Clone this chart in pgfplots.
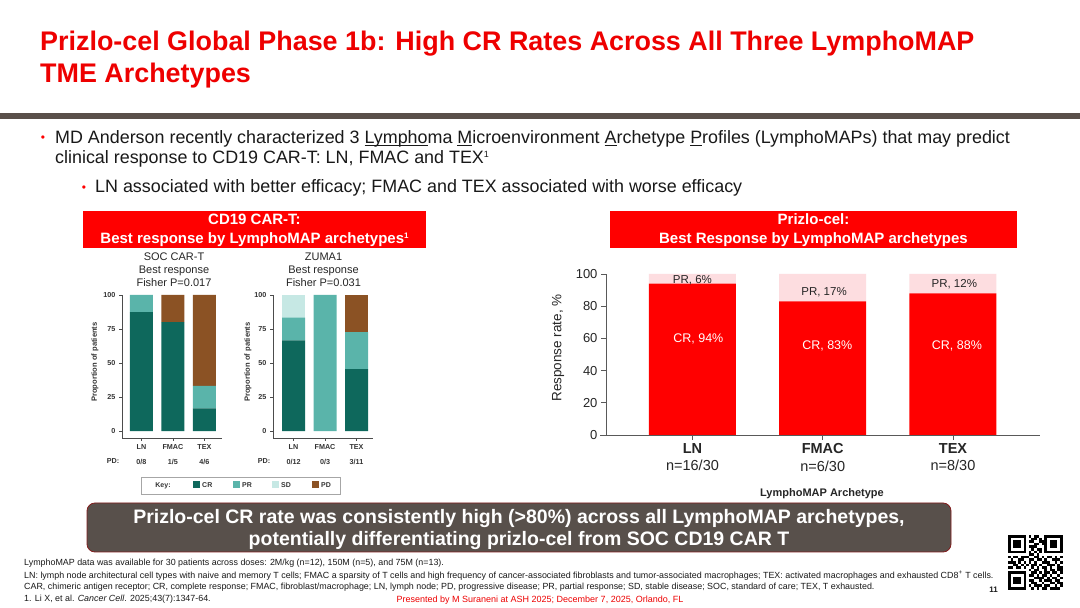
\documentclass[border=0pt]{standalone}
\usepackage{pgfplots}
\pgfplotsset{compat=1.18}
\usepackage{fontspec}
\setmainfont{Liberation Sans}
\definecolor{slidered}{RGB}{255,0,0}
\definecolor{titlered}{RGB}{238,0,0}
\definecolor{pinkpr}{RGB}{253,221,224}
\definecolor{barbrown}{RGB}{89,79,74}
\definecolor{boxfill}{RGB}{88,80,75}
\definecolor{boxedge}{RGB}{130,30,30}
\definecolor{crc}{RGB}{14,104,92}
\definecolor{prc}{RGB}{90,180,170}
\definecolor{sdc}{RGB}{198,232,228}
\definecolor{pdc}{RGB}{139,82,36}
\definecolor{txt}{RGB}{25,25,25}
\newcommand{\fsz}[1]{\fontsize{#1}{\dimexpr#1*12/10\relax}\selectfont}
\newcommand{\supone}[2]{\raisebox{#1}{\fontsize{#2}{#2}\selectfont 1}}
\newcommand{\ulx}[1]{\setbox0\hbox{#1}\rlap{\rule[-2.2pt]{\wd0}{0.9pt}}\box0}
\pgfplotsset{
  leftchart/.style={
    scale only axis, width=100pt, height=143pt,
    ybar stacked, bar width=23pt,
    ymin=-5.1, ymax=100,
    axis x line*=bottom, axis y line*=left,
    axis line style={black!70, line width=0.7pt},
    xtick={1,2,3}, ytick={0,25,50,75,100},
    tick style={black!70, line width=0.7pt},
    tick align=outside, major tick length=3pt,
    ticklabel style={font=\bfseries\fontsize{7.2}{8}\selectfont, text=black!80},
    xticklabel style={align=center},
    /pgf/number format/assume math mode=true,
    every axis plot/.append style={draw=none},
    clip=false,
  }
}
\begin{document}
\begin{tikzpicture}[x=1pt,y=1pt]
\path[use as bounding box, fill=white] (0,0) rectangle (1080,608);
% title
\node[anchor=base west, inner sep=0, text=titlered, font=\bfseries\fsz{26.9pt}] at (40,557) {Prizlo-cel Global Phase 1b: High CR Rates Across All Three LymphoMAP};
\node[anchor=base west, inner sep=0, text=titlered, font=\bfseries\fsz{26.9pt}] at (40,525) {TME Archetypes};
\fill[barbrown] (0,495) rectangle (1080,489);
% bullets
\node[text=slidered, font=\fsz{12pt}, inner sep=0] at (43,469) {\textbullet};
\node[anchor=base west, inner sep=0, font=\fsz{17.9pt}, text=txt] at (55,464.5) {MD Anderson recently characterized 3 \ulx{Lympho}ma \ulx{M}icroenvironment \ulx{A}rchetype \ulx{P}rofiles (LymphoMAPs) that may predict};
\node[anchor=base west, inner sep=0, font=\fsz{17.9pt}, text=txt] at (55,444) {clinical response to CD19 CAR-T: LN, FMAC and TEX\supone{6.5pt}{9pt}};
\node[text=slidered, font=\fsz{12pt}, inner sep=0] at (84,419) {\textbullet};
\node[anchor=base west, inner sep=0, font=\fsz{17.9pt}, text=txt] at (95,415) {LN associated with better efficacy; FMAC and TEX associated with worse efficacy};
% header boxes
\fill[slidered] (83,397) rectangle (426,360);
\node[anchor=base, inner sep=0, text=white, font=\bfseries\fsz{15pt}] at (254.5,383) {CD19 CAR-T:};
\node[anchor=base, inner sep=0, text=white, font=\bfseries\fsz{15pt}] at (254.5,364) {Best response by LymphoMAP archetypes\supone{5.5pt}{8pt}};
\fill[slidered] (610,397) rectangle (1017,360);
\node[anchor=base, inner sep=0, text=white, font=\bfseries\fsz{15pt}] at (813.5,383) {Prizlo-cel:};
\node[anchor=base, inner sep=0, text=white, font=\bfseries\fsz{15pt}] at (813.5,364) {Best Response by LymphoMAP archetypes};
% small chart titles
\foreach \t [count=\k] in {SOC CAR-T, Best response, Fisher P=0.017}{
  \node[anchor=base, inner sep=0, font=\fsz{11pt}, text=black!85] at (174,360-13*\k) {\t};}
\foreach \t [count=\k] in {ZUMA1, Best response, Fisher P=0.031}{
  \node[anchor=base, inner sep=0, font=\fsz{11pt}, text=black!85] at (323.5,360-13*\k) {\t};}
% SOC chart
\begin{axis}[leftchart, at={(122pt,170pt)}, anchor=south west, xmin=0.381, xmax=3.556,
  xticklabels={{LN\\[7pt]0/8},{FMAC\\[7pt]1/5},{TEX\\[7pt]4/6}}]
\addplot[fill=crc] coordinates {(1,87.5) (2,80) (3,16.7)};
\addplot[fill=prc] coordinates {(1,12.5) (2,0) (3,16.6)};
\addplot[fill=sdc] coordinates {(1,0) (2,0) (3,0)};
\addplot[fill=pdc] coordinates {(1,0) (2,20) (3,66.7)};
\end{axis}
% ZUMA1 chart
\begin{axis}[leftchart, at={(273pt,170pt)}, anchor=south west, xmin=0.349, xmax=3.524,
  xticklabels={{LN\\[7pt]0/12},{FMAC\\[7pt]0/3},{TEX\\[7pt]3/11}}]
\addplot[fill=crc] coordinates {(1,66.7) (2,0) (3,45.5)};
\addplot[fill=prc] coordinates {(1,16.7) (2,100) (3,27.2)};
\addplot[fill=sdc] coordinates {(1,16.6) (2,0) (3,0)};
\addplot[fill=pdc] coordinates {(1,0) (2,0) (3,27.3)};
\end{axis}
\node[anchor=base, inner sep=0, font=\bfseries\fsz{7.2pt}, text=black!80] at (113,144.5) {PD:};
\node[anchor=base, inner sep=0, font=\bfseries\fsz{7.2pt}, text=black!80] at (264,144.5) {PD:};
\node[rotate=90, font=\bfseries\fsz{7.6pt}, text=black!80] at (95,246) {Proportion of patients};
\node[rotate=90, font=\bfseries\fsz{7.6pt}, text=black!80] at (248,246) {Proportion of patients};
% key
\draw[black!35, line width=0.8pt] (141,131) rectangle (340,114);
\node[font=\bfseries\fsz{7pt}, text=black!80] at (163,122.5) {Key:};
\foreach \c/\l/\xx in {crc/CR/193, prc/PR/233, sdc/SD/272, pdc/PD/312}{
  \fill[\c] (\xx,126.5) rectangle ++(7,-7);
  \node[anchor=west, inner sep=0, font=\bfseries\fsz{7pt}, text=black!80] at (\xx+9,122.5) {\l};}
% Prizlo-cel chart
\draw[black!65, line width=0.8pt] (600,173) -- (606,173);
\begin{axis}[at={(606pt,173pt)}, anchor=south west, scale only axis, width=434pt, height=161pt,
  ybar stacked, bar width=87pt, ymin=0, ymax=100, xmin=0.336, xmax=3.668,
  axis x line*=bottom, axis y line*=left,
  axis line style={black!65, line width=0.8pt},
  tick style={black!65, line width=0.8pt},
  tick align=outside, major tick length=5pt,
  xtick={1,2,3}, ytick={0,20,40,60,80,100},
  /pgf/number format/assume math mode=true,
  yticklabel style={font=\fsz{13pt}, text=black!85},
  xticklabel style={font=\fsz{14.5pt}, text=black!85, align=center},
  xticklabels={{\textbf{LN}\\n=16/30},{\textbf{FMAC}\\n=6/30},{\textbf{TEX}\\n=8/30}},
  every axis plot/.append style={draw=none}, clip=false]
\addplot[fill=slidered] coordinates {(1,94) (2,83) (3,88)};
\addplot[fill=pinkpr] coordinates {(1,6) (2,17) (3,12)};
\coordinate (pr1) at (axis cs:1,96.3);
\coordinate (pr2) at (axis cs:2.01,88.8);
\coordinate (pr3) at (axis cs:3.01,93.8);
\coordinate (cr1) at (axis cs:1.045,59.6);
\coordinate (cr2) at (axis cs:2.035,55.3);
\coordinate (cr3) at (axis cs:3.03,55.3);
\end{axis}
\node[font=\fsz{11.5pt}, text=black!85] at (pr1) {PR, 6\%};
\node[font=\fsz{11.5pt}, text=black!85] at (pr2) {PR, 17\%};
\node[font=\fsz{11.5pt}, text=black!85] at (pr3) {PR, 12\%};
\node[font=\fsz{12.5pt}, text=white] at (cr1) {CR, 94\%};
\node[font=\fsz{12.5pt}, text=white] at (cr2) {CR, 83\%};
\node[font=\fsz{12.5pt}, text=white] at (cr3) {CR, 88\%};
\node[rotate=90, font=\fsz{13.5pt}, text=black!85] at (558,260) {Response rate, \%};
\node[font=\bfseries\fsz{11pt}, text=black!85] at (822,114) {LymphoMAP Archetype};
% bottom box
\draw[boxedge, fill=boxfill, rounded corners=8pt, line width=0.8pt] (87,105) rectangle (951,56);
\node[text=white, font=\bfseries\fsz{19.5pt}] at (519,89) {Prizlo-cel CR rate was consistently high (>80\%) across all LymphoMAP archetypes,};
\node[text=white, font=\bfseries\fsz{19.5pt}] at (519,67) {potentially differentiating prizlo-cel from SOC CD19 CAR T};
% footnotes
\node[anchor=base west, inner sep=0, font=\fsz{8.9pt}, text=txt] at (24,42) {LymphoMAP data was available for 30 patients across doses: 2M/kg (n=12), 150M (n=5), and 75M (n=13).};
\node[anchor=base west, inner sep=0, font=\fsz{8.9pt}, text=txt] at (24,29.5) {LN: lymph node architectural cell types with naive and memory T cells; FMAC a sparsity of T cells and high frequency of cancer-associated fibroblasts and tumor-associated macrophages; TEX: activated macrophages and exhausted CD8\textsuperscript{+} T cells.};
\node[anchor=base west, inner sep=0, font=\fsz{8.9pt}, text=txt] at (24,18) {CAR, chimeric antigen receptor; CR, complete response; FMAC, fibroblast/macrophage; LN, lymph node; PD, progressive disease; PR, partial response; SD, stable disease; SOC, standard of care; TEX, T exhausted.};
\node[anchor=base west, inner sep=0, font=\fsz{8.9pt}, text=txt] at (24,6) {1. Li X, et al. \textit{Cancer Cell}. 2025;43(7):1347-64.};
\node[anchor=base, inner sep=0, font=\fsz{9pt}, text=titlered] at (540,5) {Presented by M Suraneni at ASH 2025; December 7, 2025, Orlando, FL};
\node[anchor=base east, inner sep=0, font=\bfseries\fsz{8pt}, text=txt] at (998,15) {11};
% QR-like code
\foreach \row [count=\j from 0] in {
{1,1,1,1,1,1,1,0,1,0,1,1,0,0,1,1,1,1,1,1,1},
{1,0,0,0,0,0,1,0,0,1,1,0,1,0,1,0,0,0,0,0,1},
{1,0,1,1,1,0,1,0,1,1,0,0,1,1,1,0,1,1,1,0,1},
{1,0,1,1,1,0,1,0,0,0,1,1,0,1,1,0,1,1,1,0,1},
{1,0,1,1,1,0,1,0,1,1,1,0,0,0,1,0,1,1,1,0,1},
{1,0,0,0,0,0,1,0,0,1,0,1,1,0,1,0,0,0,0,0,1},
{1,1,1,1,1,1,1,0,1,0,1,0,1,0,1,1,1,1,1,1,1},
{0,0,0,0,0,0,0,0,1,1,0,1,0,0,0,0,0,0,0,0,0},
{1,0,1,1,0,1,1,1,0,0,1,1,0,1,0,1,1,0,1,0,1},
{0,1,0,0,1,1,0,0,1,1,0,1,1,0,1,0,0,1,1,1,0},
{1,1,1,0,1,0,1,0,1,0,1,0,0,1,1,1,0,0,1,0,1},
{0,0,1,1,0,1,0,1,0,1,1,0,1,0,0,1,1,1,0,1,0},
{1,1,0,1,1,0,1,0,0,1,0,1,0,1,1,0,1,0,0,1,1},
{0,0,0,0,0,0,0,0,1,0,1,1,0,0,1,0,1,1,0,1,1},
{1,1,1,1,1,1,1,0,0,1,1,0,1,0,1,1,0,1,1,0,1},
{1,0,0,0,0,0,1,0,1,1,0,1,0,1,1,0,1,0,0,1,0},
{1,0,1,1,1,0,1,0,0,0,1,1,1,1,0,1,0,1,1,0,1},
{1,0,1,1,1,0,1,0,1,1,0,0,1,0,1,1,1,0,1,1,0},
{1,0,1,1,1,0,1,0,0,1,1,0,0,1,0,0,1,1,0,1,1},
{1,0,0,0,0,0,1,0,1,0,1,1,1,0,1,1,0,0,1,0,1},
{1,1,1,1,1,1,1,0,0,1,0,1,0,1,1,0,1,1,1,1,0}}{
  \foreach \q [count=\i from 0] in \row {
    \ifnum\q=1 \fill[black] (1008+2.6*\i,73-2.6*\j) rectangle ++(2.6,-2.6); \fi}}
\end{tikzpicture}
\end{document}
